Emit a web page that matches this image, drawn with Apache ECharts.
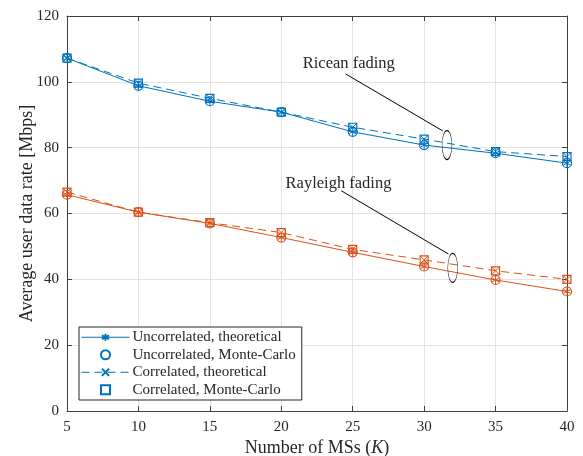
<!DOCTYPE html>
<html><head><meta charset="utf-8">
<script src="https://cdn.jsdelivr.net/npm/echarts@6/dist/echarts.min.js"></script>
<style>html,body{margin:0;padding:0;background:#fff}#c{width:583px;height:456px}</style>
</head><body><div id="c"></div>
<script>
const K = [5, 10, 15, 20, 25, 30, 35, 40];
const riceUncTheo = [107.2, 98.8, 94.1, 90.8, 84.8, 80.8, 78.3, 75.3];
const riceUncMC   = [107.2, 98.8, 94.1, 90.8, 84.8, 80.8, 78.3, 75.3];
const riceCorTheo = [107.2, 99.6, 95.0, 90.8, 86.2, 82.6, 78.8, 77.3];
const riceCorMC   = [107.2, 99.6, 95.0, 90.8, 86.2, 82.6, 78.8, 77.3];
const rayUncTheo  = [65.7, 60.4, 57.0, 52.7, 48.2, 43.9, 39.8, 36.3];
const rayUncMC    = [65.7, 60.4, 57.0, 52.7, 48.2, 43.9, 39.8, 36.3];
const rayCorTheo  = [66.5, 60.4, 57.2, 54.2, 49.1, 45.9, 42.6, 40.0];
const rayCorMC    = [66.5, 60.4, 57.2, 54.2, 49.1, 45.9, 42.6, 40.0];
const legendNames = ['Uncorrelated, theoretical', 'Uncorrelated, Monte-Carlo', 'Correlated, theoretical', 'Correlated, Monte-Carlo'];
const xTicks = [5, 10, 15, 20, 25, 30, 35, 40];
const yTicks = [0, 20, 40, 60, 80, 100, 120];

const BLUE = '#0072BD', ORANGE = '#D95319';
const FONT = 'Liberation Serif';
const ASTER = 'path://M0,-10L0,10M-8.66,-5L8.66,5M-8.66,5L8.66,-5';
const XMARK = 'path://M-10,-10L10,10M-10,10L10,-10';
const SQUARE = 'path://M-10,-10L10,-10L10,10L-10,10Z';

function pairs(v) { return K.map((k, i) => [k, v[i]]); }
function theo(name, data, color, dashed, sym) {
  return { type: 'line', name, data: pairs(data), color,
    symbol: sym, symbolSize: 8, symbolKeepAspect: true,
    lineStyle: { color, width: 1, type: dashed ? [8, 5] : 'solid' },
    itemStyle: { color, borderColor: color, borderWidth: 1 },
    z: 3, animation: false };
}
function mc(name, data, color, sym, size) {
  return { type: 'scatter', name, data: pairs(data), color,
    symbol: sym, symbolSize: size, symbolKeepAspect: true,
    itemStyle: { color: 'rgba(0,0,0,0)', borderColor: color, borderWidth: 1.2, opacity: 1 },
    z: 4, animation: false };
}
const axisCommon = {
  axisLine: { show: true, onZero: false, lineStyle: { color: '#404040', width: 1 } },
  axisTick: { show: true, inside: true, length: 5, lineStyle: { color: '#404040' } },
};
const chart = echarts.init(document.getElementById('c'), null, { renderer: 'canvas' });
chart.setOption({
  animation: false,
  backgroundColor: '#fff',
  textStyle: { fontFamily: FONT },
  grid: { left: 67, right: 16, top: 16, bottom: 45, containLabel: false, outerBoundsMode: 'none' },
  xAxis: [
    Object.assign({ type: 'value', min: 5, max: 40, interval: 5, position: 'bottom',
      axisLabel: { color: '#262626', fontSize: 15, fontFamily: FONT, margin: 9 },
      splitLine: { show: true, lineStyle: { color: '#e3e3e3' } },
      name: 'Number of MSs ({i|K})', nameLocation: 'middle', nameGap: 28, nameMoveOverlap: false,
      nameTextStyle: { color: '#262626', fontSize: 18, fontFamily: FONT,
        rich: { i: { fontStyle: 'italic', fontSize: 18, fontFamily: FONT, color: '#262626' } } }
    }, axisCommon),
    Object.assign({ type: 'value', min: 5, max: 40, interval: 5, position: 'top',
      axisLabel: { show: false }, splitLine: { show: false } }, axisCommon)
  ],
  yAxis: [
    Object.assign({ type: 'value', min: 0, max: 120, interval: 20, position: 'left',
      axisLabel: { color: '#262626', fontSize: 15, fontFamily: FONT, margin: 8 },
      splitLine: { show: true, lineStyle: { color: '#e3e3e3' } },
      name: 'Average user data rate [Mbps]', nameLocation: 'middle', nameGap: 31, nameMoveOverlap: false,
      nameTextStyle: { color: '#262626', fontSize: 18, fontFamily: FONT }
    }, axisCommon),
    Object.assign({ type: 'value', min: 0, max: 120, interval: 20, position: 'right',
      axisLabel: { show: false }, splitLine: { show: false } }, axisCommon)
  ],
  legend: {
    orient: 'vertical', left: 79, top: 327, data: legendNames,
    itemWidth: 48, itemHeight: 9, itemGap: 1,
    padding: [2, 6, 2, 2],
    lineStyle: { width: 1 },
    borderColor: '#262626', borderWidth: 1, borderRadius: 0, backgroundColor: '#fff',
    textStyle: { fontFamily: FONT, fontSize: 15, lineHeight: 16.5, color: '#262626', padding: [0, 0, 0, -2] },
    selectedMode: false
  },
  series: [
    theo(legendNames[0], riceUncTheo, BLUE, false, ASTER),
    mc(legendNames[1], riceUncMC, BLUE, 'circle', 9),
    theo(legendNames[2], riceCorTheo, BLUE, true, XMARK),
    mc(legendNames[3], riceCorMC, BLUE, SQUARE, 8),
    theo(legendNames[0], rayUncTheo, ORANGE, false, ASTER),
    mc(legendNames[1], rayUncMC, ORANGE, 'circle', 9),
    theo(legendNames[2], rayCorTheo, ORANGE, true, XMARK),
    mc(legendNames[3], rayCorMC, ORANGE, SQUARE, 8)
  ]
});

// annotations in data coordinates
const annotations = [
  { text: 'Ricean fading', textAt: [21.5, 105.5], from: [24.5, 102.4], to: [31.3, 85.1], ell: [31.6, 80.8] },
  { text: 'Rayleigh fading', textAt: [20.3, 69.0], from: [24.2, 66.9], to: [31.7, 47.7], ell: [32.0, 43.5] }
];
const els = [];
annotations.forEach(a => {
  const t = chart.convertToPixel({ gridIndex: 0 }, a.textAt);
  const f = chart.convertToPixel({ gridIndex: 0 }, a.from);
  const e = chart.convertToPixel({ gridIndex: 0 }, a.to);
  const c = chart.convertToPixel({ gridIndex: 0 }, a.ell);
  els.push({ type: 'text', x: t[0], y: t[1], z: 10,
    style: { text: a.text, fontFamily: FONT, fontSize: 16.5, fill: '#262626', textVerticalAlign: 'middle' } });
  els.push({ type: 'line', z: 10, shape: { x1: f[0], y1: f[1], x2: e[0], y2: e[1] },
    style: { stroke: '#000', lineWidth: 1 } });
  els.push({ type: 'circle', z: 10, x: c[0], y: c[1], scaleX: 0.34, scaleY: 1,
    shape: { cx: 0, cy: 0, r: 14.5 },
    style: { fill: 'none', stroke: '#000', lineWidth: 1.2, strokeNoScale: true } });
});
chart.setOption({ graphic: { elements: els } });
</script></body></html>
